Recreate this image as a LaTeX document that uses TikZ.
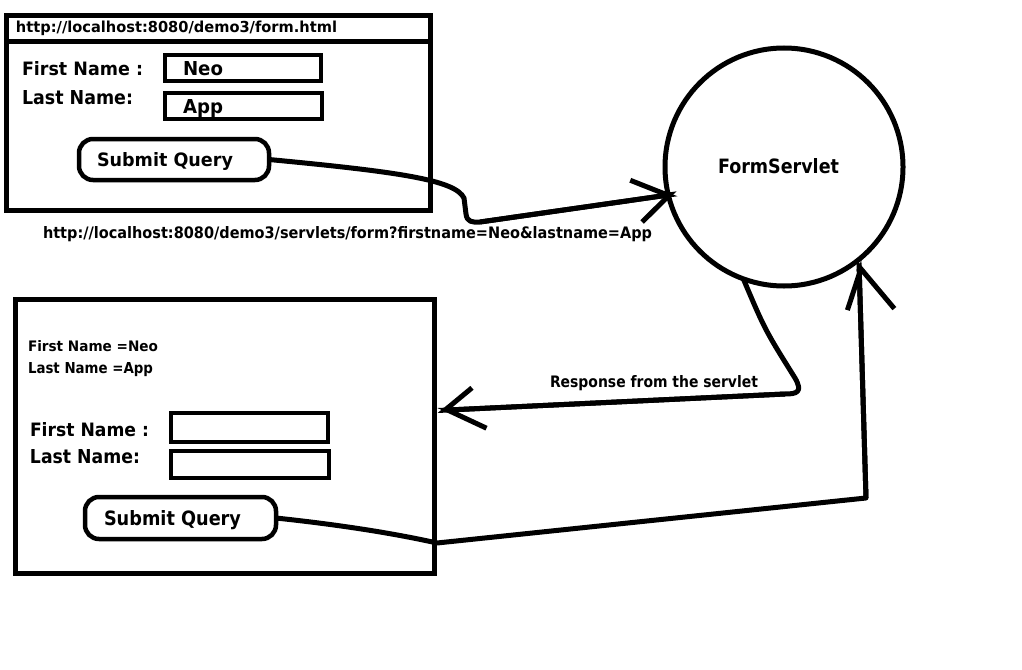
\documentclass[tikz,border=0pt]{standalone}
\usepackage{fontspec}
\setmainfont{DejaVu Sans}
\usetikzlibrary{arrows.meta}
\newcommand{\fitt}[3]{\resizebox{#1pt}{#2pt}{#3}}
\begin{document}
\begin{tikzpicture}[x=1pt,y=-1pt,
 frame/.style={draw, line width=5pt, inner sep=0, outer sep=0},
 field/.style={draw, line width=4pt, inner sep=0, outer sep=0},
 button/.style={draw, line width=4.5pt, rounded corners=14pt, inner sep=0, outer sep=0},
 srvnode/.style={draw, circle, line width=5pt, inner sep=0, outer sep=0, minimum size=238pt},
 txt/.style={inner sep=0, outer sep=0, anchor=base west, font=\bfseries},
 conn/.style={line width=5pt, line join=round},
]
\fill[white] (0,0) rectangle (1022,669);
\useasboundingbox (0,0) rectangle (1022,669);

% top window
\node[frame, minimum width=424pt, minimum height=195pt] (win1) at (218.5,113) {};
\draw[line width=5pt] ([yshift=-26pt]win1.north west) -- ([yshift=-26pt]win1.north east);
\node[txt] (url1) at (16,33) {\fitt{321}{11.5}{http://localhost:8080/demo3/form.html}};
\node[field, minimum width=156pt, minimum height=26pt] (fn1) at (243,68) {};
\node[field, minimum width=157pt, minimum height=26pt] (ln1) at (243.5,106) {};
\node[button, minimum width=190pt, minimum height=41pt] (sq1) at (174,159.5) {};
\node[txt] (fnl1) at (22,76) {\fitt{121}{14}{First Name :}};
\node[txt] (lnl1) at (22,104) {\fitt{111}{14}{Last Name:}};
\node[txt] (fnv1) at (183,75) {\fitt{40}{14}{Neo}};
\node[txt] (lnv1) at (183,113) {\fitt{40}{14}{App}};
\node[txt] (sqt1) at (97,166) {\fitt{136}{14}{Submit Query}};

\node[txt] (url2) at (43,238) {\fitt{609}{12}{http://localhost:8080/demo3/servlets/form?firstname=Neo\&lastname=App}};

% servlet
\node[srvnode] (srv) at (784,167) {};
\node[txt] (srvt) at (718,173) {\fitt{121}{15}{FormServlet}};

\node[txt] (resp) at (550,387) {\fitt{208}{12}{Response from the servlet}};

% bottom window
\node[frame, minimum width=419pt, minimum height=274pt] (win2) at (225,436.5) {};
\node[txt] (res1) at (28,351) {\fitt{130}{11}{First Name =Neo}};
\node[txt] (res2) at (28,373) {\fitt{125}{11}{Last Name =App}};
\node[txt] (fnl2) at (30,436) {\fitt{119}{14}{First Name :}};
\node[txt] (lnl2) at (30,463) {\fitt{110}{14}{Last Name:}};
\node[field, minimum width=157pt, minimum height=29pt] (fn2) at (249.5,427.5) {};
\node[field, minimum width=158pt, minimum height=27pt] (ln2) at (250,464.5) {};
\node[button, minimum width=191pt, minimum height=42pt] (sq2) at (180.5,518) {};
\node[txt] (sqt2) at (104,525) {\fitt{137}{15}{Submit Query}};

% connectors
\coordinate (b1) at (464,198);
\coordinate (b2) at (480,222);
\coordinate (t1) at ([xshift=9pt]srv.193);
\draw[conn, -{Straight Barb[left,length=35pt,width=40pt]}] (sq1.east) .. controls (400,172) and (455,180) .. (b1) -- (466,214) .. controls (467,222) and (472,222.5) .. (b2) -- (t1);
\draw[conn, -{Straight Barb[right,length=31pt,width=46pt]}] (b2) -- (t1);

\coordinate (b3) at (795,378);
\coordinate (b4) at (785,394);
\coordinate (t2) at ([xshift=3pt,yshift=26pt]win2.east);
\draw[conn, -{Straight Barb[left,length=38pt,width=40pt]}] (srv.250) .. controls (765,330) .. (b3) .. controls (803,392) and (797,394) .. (b4) -- (t2);
\draw[conn, -{Straight Barb[right,length=28pt,width=42pt]}] (b4) -- (t2);

\coordinate (j2) at (437,543);
\coordinate (b5) at (866,498);
\draw[conn, -{Straight Barb[left,length=36pt,width=26pt]}] (sq2.east) .. controls (360,527) and (410,537) .. (j2) -- (b5) -- (srv.309);
\draw[conn, -{Straight Barb[right,length=43pt,width=68pt]}] (b5) -- (srv.309);
\end{tikzpicture}
\end{document}
